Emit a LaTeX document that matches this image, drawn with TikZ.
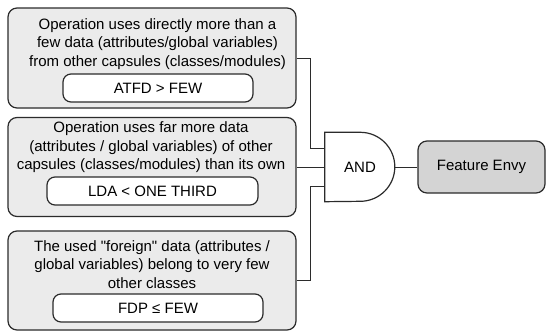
\documentclass[tikz,border=0pt]{standalone}
\usepackage{fontspec}
\setmainfont{Liberation Sans}
\definecolor{condgray}{HTML}{EBEBEB}
\definecolor{envygray}{HTML}{D4D4D4}
\definecolor{edge}{HTML}{2B2B2B}

\begin{document}
\begin{tikzpicture}[x=1pt, y=-1pt, font=\fontsize{15}{18.5}\selectfont,
  every node/.style={inner sep=0pt},
  cond/.style={draw=edge, line width=1.2pt, rounded corners=9pt, fill=condgray,
    minimum width=288pt, minimum height=99pt},
  metric/.style={draw=edge, line width=1.2pt, rounded corners=8pt, fill=white, minimum height=28pt},
  wire/.style={draw=edge, line width=0.9pt}]
\useasboundingbox (0,0) rectangle (546,332);
\node[cond, minimum height=100pt] (cond1) at (152,58) {};
\node[cond] (cond2) at (152,167) {};
\node[cond] (cond3) at (152,280.5) {};

\node[align=center] (txt1) at (157.5,44) {Operation uses directly more than a\\few data (attributes/global variables)\\from other capsules (classes/modules)};
\node[align=center] (txt2) at (151,147.5) {Operation uses far more data\\(attributes / global variables) of other\\capsules (classes/modules) than its own};
\node[align=center] (txt3) at (152,264.5) {The used \textquotedbl foreign\textquotedbl{} data (attributes /\\global variables) belong to very few\\other classes};

\node[metric, minimum width=190pt] (met1) at (158,88) {ATFD > FEW};
\node[metric, minimum width=211pt] (met2) at (152.5,191) {LDA < ONE THIRD};
\node[metric, minimum width=210pt] (met3) at (158,308) {FDP ≤ FEW};

\node[minimum width=70pt, minimum height=69pt] (gate) at (360,167) {AND};
\draw[edge, line width=1.2pt] (gate.south west) -- (gate.north west) -- ++(35.5,0)
  arc[start angle=90, end angle=-90, radius=34.5pt] -- cycle;
\node[draw=edge, line width=1.2pt, rounded corners=9pt, fill=envygray,
  minimum width=127pt, minimum height=52pt] (envy) at (481.5,167) {Feature Envy};

\coordinate (in1) at ([yshift=19pt]gate.west);
\coordinate (in3) at ([yshift=-19.5pt]gate.west);
\draw[wire] (cond1.east) -- ++(14,0) |- (in1);
\draw[wire] (cond2.east) -- (gate.west);
\draw[wire] (cond3.east) -- ++(14,0) |- (in3);
\draw[wire] (gate.east) -- (envy.west);
\end{tikzpicture}
\end{document}
